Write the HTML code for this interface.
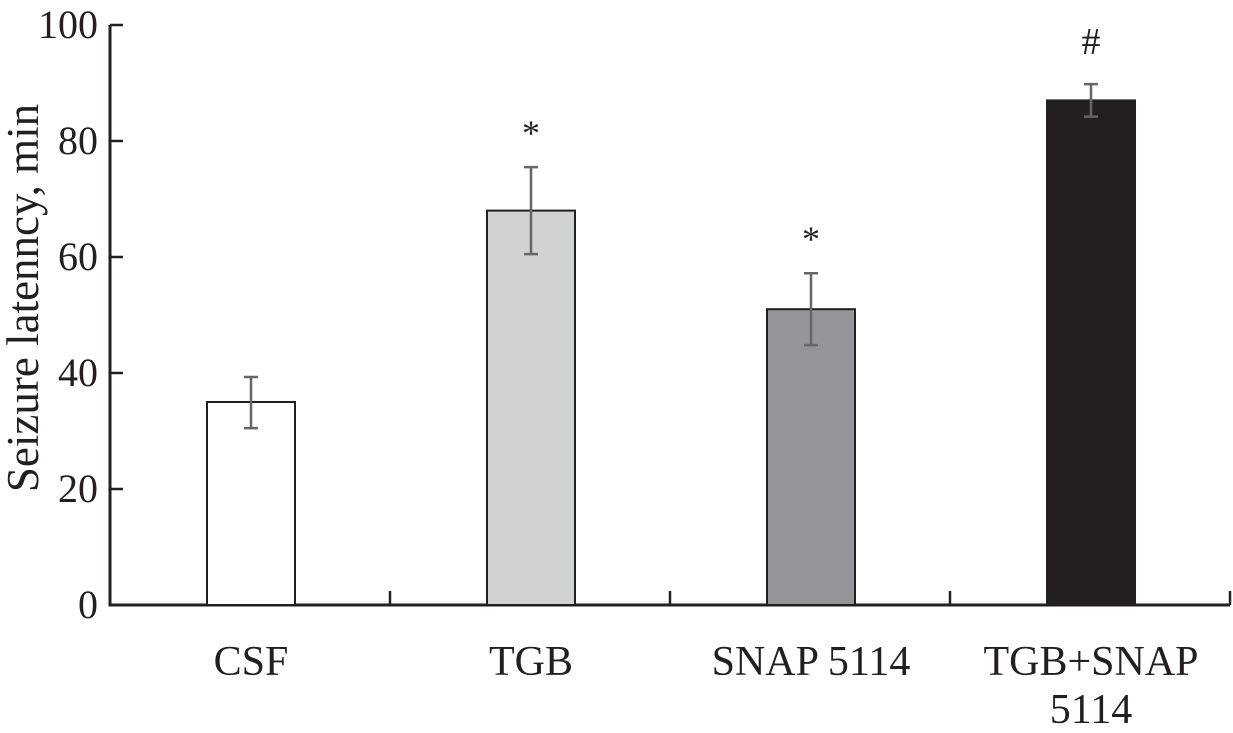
<!DOCTYPE html>
<html><head><meta charset="utf-8"><style>
html,body{margin:0;padding:0;background:#fff;}
svg{display:block;font-family:"Liberation Serif",serif;}
</style></head><body>
<svg id="chart" width="1233" height="733" viewBox="0 0 1233 733">
<text x="38" y="298" font-size="45" text-anchor="middle" transform="rotate(-90 38 298)" fill="#231f20">Seizure latenncy, min</text>
<g id="axes"></g>
<g id="bars"></g>
</svg>
<script>
const categories = ["CSF", "TGB", "SNAP 5114", "TGB+SNAP|5114"];
const values = [35, 68, 51, 87];
const errHigh = [39.3, 75.5, 57.2, 89.8];
const errLow = [30.5, 60.5, 44.8, 84.2];
const marks = ["", "*", "*", "#"];
const fills = ["#ffffff", "#d1d2d4", "#939598", "#231f20"];
const yTicks = [0, 20, 40, 60, 80, 100];

const NS = "http://www.w3.org/2000/svg";
const x0 = 110, x1 = 1230, yBase = 605, yTop = 25;
const bandW = (x1 - x0) / categories.length;
function y(v){ return yBase - (v / 100) * (yBase - yTop); }
function xc(i){ return x0 + bandW * (i + 0.5) + 1; }
function mk(tag, attrs, parent){
  const el = document.createElementNS(NS, tag);
  for (const k in attrs) el.setAttribute(k, attrs[k]);
  parent.appendChild(el);
  return el;
}
const axes = document.getElementById("axes");
const bars = document.getElementById("bars");

yTicks.forEach(t => {
  const ln = mk("line", {x1: x0, x2: x0 + 13, y1: y(t), y2: y(t), stroke: "#231f20", "stroke-width": 2.5}, axes);
  
  
  const tx = mk("text", {x: x0 - 12, y: y(t) + 13, "font-size": 40, "text-anchor": "end", fill: "#231f20"}, axes);
  tx.textContent = t;
  
  
});

categories.forEach((c, i) => {
  const bw = 88;
  const r = mk("rect", {x: xc(i) - bw / 2, y: y(values[i]), width: bw, height: yBase - y(values[i]), fill: fills[i], stroke: "#231f20", "stroke-width": 2}, bars);
  
  
  const eb = mk("path", {d: `M${xc(i)},${y(errHigh[i])}V${y(errLow[i])}M${xc(i)-7},${y(errHigh[i])}h14M${xc(i)-7},${y(errLow[i])}h14`, stroke: "#666", "stroke-width": 2.5, fill: "none"}, bars);
  
  
  if (marks[i]) {
    const isHash = marks[i] === "#";
    const m = mk("text", {x: xc(i), y: y(errHigh[i]) - (isHash ? 30 : 22), "font-size": isHash ? 38 : 36, "text-anchor": "middle", fill: "#231f20"}, bars);
    m.textContent = marks[i];
    
    
  }
  const lines = c.split("|");
  lines.forEach((s, k) => {
    const t = mk("text", {x: xc(i), y: 675 + k * 48, "font-size": 42, "text-anchor": "middle", fill: "#231f20"}, axes);
    t.textContent = s;
    
    
  });
  if (i > 0) {
    const tk = mk("line", {x1: x0 + bandW * i, x2: x0 + bandW * i, y1: yBase, y2: yBase - 14, stroke: "#231f20", "stroke-width": 2.5}, axes);
    
    
  }
});
const lastTk = mk("line", {x1: x1, x2: x1, y1: yBase, y2: yBase - 14, stroke: "#231f20", "stroke-width": 2.5}, axes);


const ax = mk("path", {d: `M${x0},${yTop}V${yBase}H${x1}`, stroke: "#231f20", "stroke-width": 3, fill: "none"}, axes);


</script>
</body></html>
